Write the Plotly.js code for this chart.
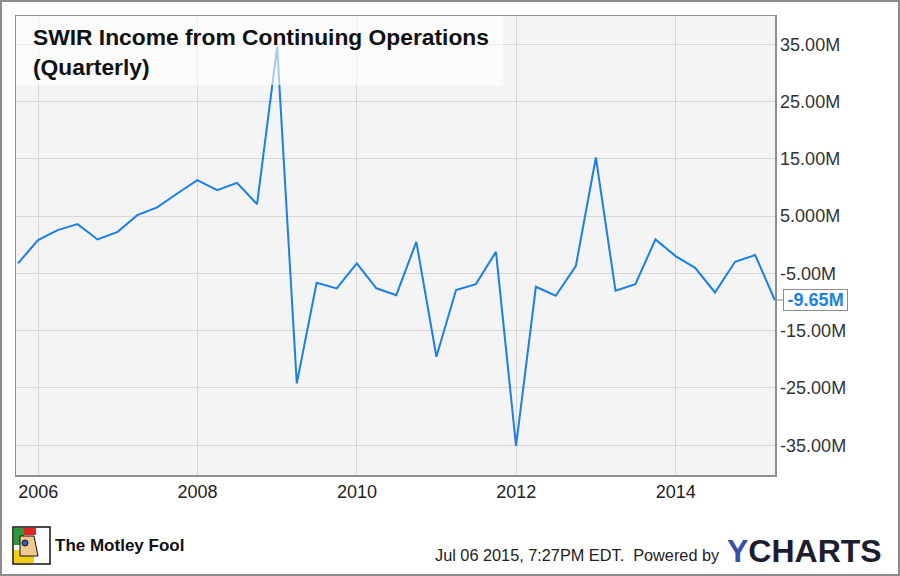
<!DOCTYPE html>
<html>
<head>
<meta charset="utf-8">
<script src="https://cdn.plot.ly/plotly-3.0.1.min.js"></script>
<style>
  html, body { margin: 0; padding: 0; background: #ffffff; }
  #chart { width: 900px; height: 576px; }
</style>
</head>
<body>
<div id="chart"></div>
<script>
// Quarter-end dates
const dates = [
  '2005-09-30','2005-12-31','2006-03-31','2006-06-30','2006-09-30','2006-12-31',
  '2007-03-31','2007-06-30','2007-09-30','2007-12-31','2008-03-31','2008-06-30',
  '2008-09-30','2008-12-31','2009-03-31','2009-06-30','2009-09-30','2009-12-31',
  '2010-03-31','2010-06-30','2010-09-30','2010-12-31','2011-03-31','2011-06-30',
  '2011-09-30','2011-12-31','2012-03-31','2012-06-30','2012-09-30','2012-12-31',
  '2013-03-31','2013-06-30','2013-09-30','2013-12-31','2014-03-31','2014-06-30',
  '2014-09-30','2014-12-31','2015-03-31'
];
// Income from continuing operations, millions USD
const incomeM = [
  -3.25, 0.81, 2.56, 3.60, 0.93, 2.26,
  5.17, 6.52, 8.96, 11.28, 9.54, 10.80,
  7.10, 34.50, -24.20, -6.64, -7.62, -3.25,
  -7.60, -8.79, 0.51, -19.55, -7.90, -6.87,
  -1.23, -35.10, -7.33, -8.90, -3.73, 15.24,
  -8.03, -6.87, 0.93, -1.98, -4.02, -8.32,
  -2.97, -1.80, -9.65
];
const xTickVals = ['2006-01-01','2008-01-01','2010-01-01','2012-01-01','2014-01-01'];
const xTickText = ['2006','2008','2010','2012','2014'];
const yTickVals = [35, 25, 15, 5, -5, -15, -25, -35];
const yTickText = ['35.00M','25.00M','15.00M','5.000M','-5.00M','-15.00M','-25.00M','-35.00M'];
const lastLabel = '-9.65M';
const titleLine1 = 'SWIR Income from Continuing Operations';
const titleLine2 = '(Quarterly)';
const footerText = 'Jul 06 2015, 7:27PM EDT.\u00a0\u00a0Powered by';

const lineColor = '#1a7fe6';
const FONT = 'Liberation Sans, Arial, sans-serif';

// paper coordinate helpers (plot area: x 16..775, y 16..475)
const L = 16, R = 775, T = 16, B = 475;
const fx = px => (px - L) / (R - L);
const fy = py => (B - py) / (B - T);

const trace = {
  x: dates, y: incomeM, type: 'scatter', mode: 'lines',
  line: { color: lineColor, width: 2 },
  hoverinfo: 'skip', showlegend: false
};

const layout = {
  width: 900, height: 576,
  margin: { l: L, r: 900 - R, t: T, b: 576 - B, pad: 0 },
  paper_bgcolor: '#ffffff',
  plot_bgcolor: '#f4f4f4',
  font: { family: FONT, color: '#222' },
  showlegend: false,
  xaxis: {
    type: 'date',
    range: ['2005-09-21', '2015-04-01'],
    tickmode: 'array', tickvals: xTickVals, ticktext: xTickText,
    showgrid: true, gridcolor: '#d6d6d6', gridwidth: 1,
    zeroline: false,
    showline: true, linecolor: '#8e8e8e', linewidth: 1.5, mirror: true,
    ticks: '', tickfont: { size: 18, color: '#222', family: FONT },
    fixedrange: true
  },
  yaxis: {
    side: 'right',
    range: [-40.19, 39.94],
    tickmode: 'array', tickvals: yTickVals, ticktext: yTickText,
    showgrid: true, gridcolor: '#d6d6d6', gridwidth: 1,
    zeroline: false,
    showline: true, linecolor: '#8e8e8e', linewidth: 1.5, mirror: true,
    ticks: '', tickfont: { size: 18, color: '#333', family: FONT },
    fixedrange: true
  },
  shapes: [
    // title backdrop
    { type: 'rect', xref: 'paper', yref: 'paper', x0: 0, x1: fx(503), y0: fy(85), y1: 1,
      fillcolor: 'rgba(255,255,255,0.6)', line: { width: 0 }, layer: 'above' },
    // outer frame
    { type: 'rect', xref: 'paper', yref: 'paper', x0: fx(1), x1: fx(899), y0: fy(575), y1: fy(1),
      fillcolor: 'rgba(0,0,0,0)', line: { color: '#8c8c8c', width: 2 }, layer: 'above' },
    // Motley Fool logo approximation
    { type: 'rect', xref: 'paper', yref: 'paper', x0: fx(13), x1: fx(50), y0: fy(564), y1: fy(527),
      fillcolor: '#ffffff', line: { color: '#111', width: 1.5 }, layer: 'above' },
    { type: 'rect', xref: 'paper', yref: 'paper', x0: fx(14), x1: fx(24), y0: fy(545), y1: fy(528),
      fillcolor: '#2e9a3a', line: { width: 0 }, layer: 'above' },
    { type: 'rect', xref: 'paper', yref: 'paper', x0: fx(24), x1: fx(36), y0: fy(535), y1: fy(528),
      fillcolor: '#e02525', line: { width: 0 }, layer: 'above' },
    { type: 'rect', xref: 'paper', yref: 'paper', x0: fx(14), x1: fx(34), y0: fy(563), y1: fy(550),
      fillcolor: '#f2cc12', line: { width: 0 }, layer: 'above' },
    { type: 'path', xref: 'paper', yref: 'paper',
      path: 'M ' + fx(20) + ',' + fy(536) + ' L ' + fx(34) + ',' + fy(536) + ' L ' + fx(38) + ',' + fy(556) + ' L ' + fx(20) + ',' + fy(556) + ' Z',
      fillcolor: '#f0c890', line: { color: '#111', width: 1 }, layer: 'above' },
    { type: 'circle', xref: 'paper', yref: 'paper', x0: fx(22), x1: fx(28), y0: fy(546), y1: fy(540),
      fillcolor: '#2d5fc8', line: { color: '#111', width: 1 }, layer: 'above' }
  ],
  annotations: [
    { xref: 'paper', yref: 'paper', x: fx(31), y: fy(37), xanchor: 'left', yanchor: 'middle',
      text: titleLine1, showarrow: false,
      font: { family: FONT, size: 22.8, color: '#111', weight: 'bold' } },
    { xref: 'paper', yref: 'paper', x: fx(31), y: fy(67), xanchor: 'left', yanchor: 'middle',
      text: titleLine2, showarrow: false,
      font: { family: FONT, size: 22.8, color: '#111', weight: 'bold' } },
    // last value callout
    { xref: 'x', yref: 'y', x: dates[dates.length - 1], y: incomeM[incomeM.length - 1],
      text: '<b>\u2009' + lastLabel + '\u2009</b>', showarrow: true, arrowhead: 0, arrowwidth: 1,
      arrowcolor: '#8c8c8c', ax: 8, ay: 0, xanchor: 'left', yanchor: 'middle',
      bgcolor: '#ffffff', bordercolor: '#8c8c8c', borderwidth: 1, borderpad: 0,
      font: { family: FONT, size: 18, color: lineColor } },
    // footer
    { xref: 'paper', yref: 'paper', x: fx(53), y: fy(545), xanchor: 'left', yanchor: 'middle',
      text: '<b>The Motley Fool</b>', showarrow: false,
      font: { family: FONT, size: 17, color: '#111' } },
    { xref: 'paper', yref: 'paper', x: fx(722), y: fy(555), xanchor: 'right', yanchor: 'middle',
      text: footerText, showarrow: false,
      font: { family: FONT, size: 16.3, color: '#222' } },
    { xref: 'paper', yref: 'paper', x: fx(725), y: fy(551), xanchor: 'left', yanchor: 'middle',
      text: '<b><span style="color:#3b4fa6">Y</span>CHARTS</b>', showarrow: false,
      font: { family: FONT, size: 32, color: '#1c1e30' } }
  ]
};

Plotly.newPlot('chart', [trace], layout, { staticPlot: true, displayModeBar: false });
</script>
</body>
</html>
